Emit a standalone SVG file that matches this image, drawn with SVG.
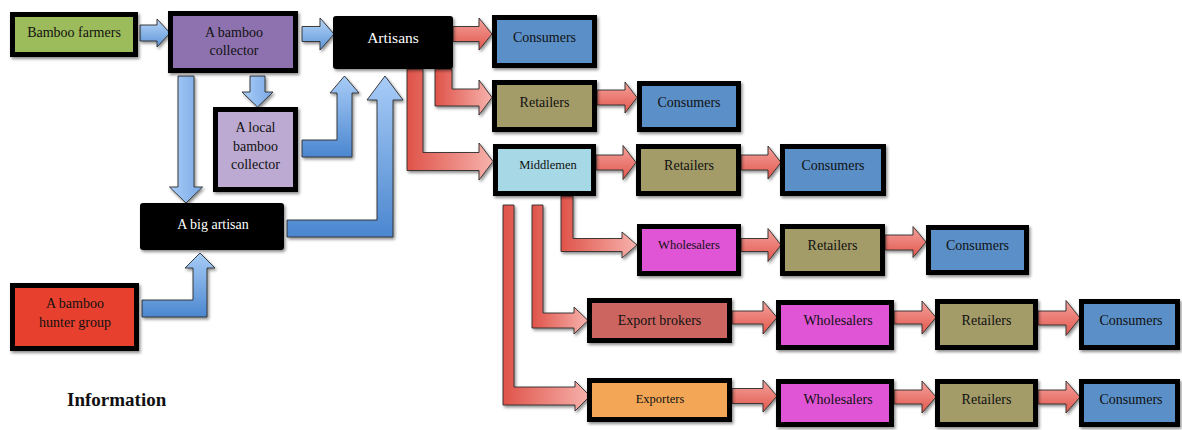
<svg xmlns="http://www.w3.org/2000/svg" width="1182" height="430" viewBox="0 0 1182 430">
  <defs>
    <filter id="shadow" x="-10%" y="-10%" width="125%" height="135%">
      <feDropShadow dx="1.5" dy="2" stdDeviation="1.5" flood-color="#000" flood-opacity="0.45"/>
    </filter>
    <linearGradient id="blueH" x1="0" y1="0" x2="0" y2="1">
      <stop offset="0" stop-color="#B8D6F8"/>
      <stop offset="1" stop-color="#5C95D8"/>
    </linearGradient>
    <linearGradient id="blueV" x1="0" y1="0" x2="1" y2="0">
      <stop offset="0" stop-color="#A9CDF7"/>
      <stop offset="1" stop-color="#79A9E6"/>
    </linearGradient>
    <linearGradient id="blueL" x1="0" y1="0" x2="0" y2="1">
      <stop offset="0" stop-color="#A8CCF7"/>
      <stop offset="1" stop-color="#4B87CF"/>
    </linearGradient>
    <linearGradient id="redH" x1="0" y1="0" x2="0" y2="1">
      <stop offset="0" stop-color="#F3A29C"/>
      <stop offset="1" stop-color="#E2574D"/>
    </linearGradient>
    <linearGradient id="redL" x1="0" y1="0" x2="1" y2="0">
      <stop offset="0" stop-color="#DF5349"/>
      <stop offset="1" stop-color="#F6B2AC"/>
    </linearGradient>
  </defs>
  <style>
    .box { stroke: #000; stroke-width: 5; filter: url(#shadow); }
    .dark { fill: #000; filter: url(#shadow); }
    .arrow { stroke: #2B2B2B; stroke-width: 0.9; stroke-linejoin: miter; filter: url(#shadow); }
    .lbl { font-family: 'Liberation Serif', 'DejaVu Serif', 'Times New Roman', serif; font-size: 14px; fill: #111; text-anchor: middle; }
    .white { fill: #fff; }
    .small { font-size: 12.5px; }
    .title { font-size: 19px; font-weight: bold; text-anchor: start; }
  </style>

  <!-- connectors -->
  <g id="connectors">
    <!-- information flow (blue) -->
    <path class="arrow" fill="url(#blueH)" d="M140,25 L157,25 L157,19 L170,33 L157,47 L157,41 L140,41 Z"/>
    <path class="arrow" fill="url(#blueH)" d="M302,26.5 L320,26.5 L320,18 L334,34 L320,50 L320,41.5 L302,41.5 Z"/>
    <path class="arrow" fill="url(#blueV)" d="M250,76 L265,76 L265,92 L273,92 L257.5,107 L242,92 L250,92 Z"/>
    <path class="arrow" fill="url(#blueV)" d="M178,76 L194,76 L194,187 L202.5,187 L186,203 L169.5,187 L178,187 Z"/>
    <path class="arrow" fill="url(#blueL)" d="M302,140 L337,140 L337,93 L330,93 L344.5,76 L359,93 L352,93 L352,157 L302,157 Z"/>
    <path class="arrow" fill="url(#blueL)" d="M287,220 L377,220 L377,100 L367,100 L385,76 L403,100 L393,100 L393,237 L287,237 Z"/>
    <path class="arrow" fill="url(#blueL)" d="M142,300 L193,300 L193,268 L185,268 L200,253 L215,268 L207,268 L207,317 L142,317 Z"/>

    <!-- product flow (red) -->
    <path class="arrow" fill="url(#redH)" d="M453,26.5 L479,26.5 L479,18 L492,34 L479,50 L479,41.5 L453,41.5 Z"/>
    <path class="arrow" fill="url(#redL)" d="M435,69 L452,69 L452,89 L479,89 L479,80 L492,97.5 L479,115 L479,106 L435,106 Z"/>
    <path class="arrow" fill="url(#redL)" d="M407,69 L423,69 L423,152.5 L479,152.5 L479,143 L493,161.5 L479,180 L479,170.5 L407,170.5 Z"/>
    <path class="arrow" fill="url(#redH)" d="M597,90 L625,90 L625,82 L637,97.5 L625,113 L625,105 L597,105 Z"/>
    <path class="arrow" fill="url(#redH)" d="M596,155 L623,155 L623,145.5 L636,162.5 L623,179.5 L623,170 L596,170 Z"/>
    <path class="arrow" fill="url(#redH)" d="M741,155 L768,155 L768,146 L781,162.5 L768,179 L768,170 L741,170 Z"/>
    <path class="arrow" fill="url(#redL)" d="M561,196 L573,196 L573,238.5 L622,238.5 L622,232 L637,245 L622,258 L622,251.5 L561,251.5 Z"/>
    <path class="arrow" fill="url(#redH)" d="M741,238.5 L768,238.5 L768,228.5 L781,245 L768,261.5 L768,251.5 L741,251.5 Z"/>
    <path class="arrow" fill="url(#redH)" d="M885,235 L913,235 L913,226.5 L926,242 L913,257.5 L913,250 L885,250 Z"/>
    <path class="arrow" fill="url(#redL)" d="M532,205 L543,205 L543,313 L574,313 L574,307 L588,320.5 L574,334 L574,328 L532,328 Z"/>
    <path class="arrow" fill="url(#redL)" d="M503,205 L514,205 L514,387 L575,387 L575,381 L590,396 L575,411 L575,405 L503,405 Z"/>
    <path class="arrow" fill="url(#redH)" d="M732,311 L763,311 L763,301 L777,317.5 L763,334 L763,324 L732,324 Z"/>
    <path class="arrow" fill="url(#redH)" d="M894,311 L922,311 L922,301 L936,317.5 L922,334 L922,324 L894,324 Z"/>
    <path class="arrow" fill="url(#redH)" d="M1038,311 L1066,311 L1066,300.5 L1080,318 L1066,335.5 L1066,325 L1038,325 Z"/>
    <path class="arrow" fill="url(#redH)" d="M732,388.5 L763,388.5 L763,380 L777,396 L763,412 L763,403.5 L732,403.5 Z"/>
    <path class="arrow" fill="url(#redH)" d="M894,390 L922,390 L922,381 L936,397 L922,413 L922,404 L894,404 Z"/>
    <path class="arrow" fill="url(#redH)" d="M1038,390 L1066,390 L1066,381 L1080,397 L1066,413 L1066,404 L1038,404 Z"/>
  </g>

  <!-- nodes -->
  <g id="bamboo-farmers">
    <rect class="box" x="12.5" y="14.5" width="123" height="40" fill="#9CBB5A"/>
    <text class="lbl" x="74" y="37">Bamboo farmers</text>
  </g>
  <g id="bamboo-collector">
    <rect class="box" x="170.5" y="13.5" width="125" height="57" fill="#8E72AF"/>
    <text class="lbl" x="234" y="37">A bamboo</text>
    <text class="lbl" x="234" y="55">collector</text>
  </g>
  <g id="local-collector">
    <rect class="box" x="215.5" y="109.5" width="80" height="80" fill="#BCAAD2"/>
    <text class="lbl" x="255.5" y="132">A local</text>
    <text class="lbl" x="255.5" y="151">bamboo</text>
    <text class="lbl" x="255.5" y="169">collector</text>
  </g>
  <g id="big-artisan">
    <rect class="dark" x="140" y="203" width="144" height="47" rx="3"/>
    <text class="lbl white" x="213" y="229">A big artisan</text>
  </g>
  <g id="hunter-group">
    <rect class="box" x="12.5" y="285.5" width="124" height="63" fill="#E8412F"/>
    <text class="lbl" x="75" y="308">A bamboo</text>
    <text class="lbl" x="75" y="327">hunter group</text>
  </g>
  <g id="artisans">
    <rect class="dark" x="333" y="16" width="120" height="53" rx="3"/>
    <text class="lbl white" x="393" y="43" style="font-size:15.5px">Artisans</text>
  </g>
  <g id="consumers-1">
    <rect class="box" x="494.5" y="17.5" width="100" height="48" fill="#5A8FC8"/>
    <text class="lbl" x="544.5" y="42">Consumers</text>
  </g>
  <g id="retailers-1">
    <rect class="box" x="494.5" y="82.5" width="100" height="47" fill="#A39B67"/>
    <text class="lbl" x="544.5" y="107">Retailers</text>
  </g>
  <g id="consumers-2">
    <rect class="box" x="639.5" y="83.5" width="99" height="46" fill="#5A8FC8"/>
    <text class="lbl" x="689" y="107">Consumers</text>
  </g>
  <g id="middlemen">
    <rect class="box" x="495.5" y="146.5" width="98" height="47" fill="#A7D8E5"/>
    <text class="lbl small" x="548" y="169">Middlemen</text>
  </g>
  <g id="retailers-2">
    <rect class="box" x="638.5" y="146.5" width="100" height="47" fill="#A39B67"/>
    <text class="lbl" x="689" y="170">Retailers</text>
  </g>
  <g id="consumers-3">
    <rect class="box" x="782.5" y="146.5" width="101" height="47" fill="#5A8FC8"/>
    <text class="lbl" x="833" y="170">Consumers</text>
  </g>
  <g id="wholesalers-1">
    <rect class="box" x="639.5" y="226.5" width="99" height="47" fill="#E054D5"/>
    <text class="lbl small" x="689" y="249">Wholesalers</text>
  </g>
  <g id="retailers-3">
    <rect class="box" x="782.5" y="226.5" width="100" height="47" fill="#A39B67"/>
    <text class="lbl" x="832.5" y="250">Retailers</text>
  </g>
  <g id="consumers-4">
    <rect class="box" x="928.5" y="227.5" width="98" height="45" fill="#5A8FC8"/>
    <text class="lbl" x="977.5" y="250">Consumers</text>
  </g>
  <g id="export-brokers">
    <rect class="box" x="589.5" y="300.5" width="140" height="40" fill="#CC655F"/>
    <text class="lbl" x="659.5" y="325">Export brokers</text>
  </g>
  <g id="wholesalers-2">
    <rect class="box" x="778.5" y="302.5" width="113" height="45" fill="#E054D5"/>
    <text class="lbl" x="838" y="325">Wholesalers</text>
  </g>
  <g id="retailers-4">
    <rect class="box" x="937.5" y="301.5" width="98" height="46" fill="#A39B67"/>
    <text class="lbl" x="986.5" y="325">Retailers</text>
  </g>
  <g id="consumers-5">
    <rect class="box" x="1081.5" y="301.5" width="96" height="46" fill="#5A8FC8"/>
    <text class="lbl" x="1131" y="325">Consumers</text>
  </g>
  <g id="exporters">
    <rect class="box" x="589.5" y="380.5" width="140" height="39" fill="#F3A757"/>
    <text class="lbl small" x="660" y="403">Exporters</text>
  </g>
  <g id="wholesalers-3">
    <rect class="box" x="778.5" y="381.5" width="113" height="43" fill="#E054D5"/>
    <text class="lbl" x="838" y="404">Wholesalers</text>
  </g>
  <g id="retailers-5">
    <rect class="box" x="937.5" y="381.5" width="98" height="43" fill="#A39B67"/>
    <text class="lbl" x="986.5" y="404">Retailers</text>
  </g>
  <g id="consumers-6">
    <rect class="box" x="1081.5" y="381.5" width="96" height="43" fill="#5A8FC8"/>
    <text class="lbl" x="1131" y="404">Consumers</text>
  </g>

  <!-- caption -->
  <g id="information-label">
    <text class="lbl title" x="67" y="406">Information</text>
  </g>
</svg>
